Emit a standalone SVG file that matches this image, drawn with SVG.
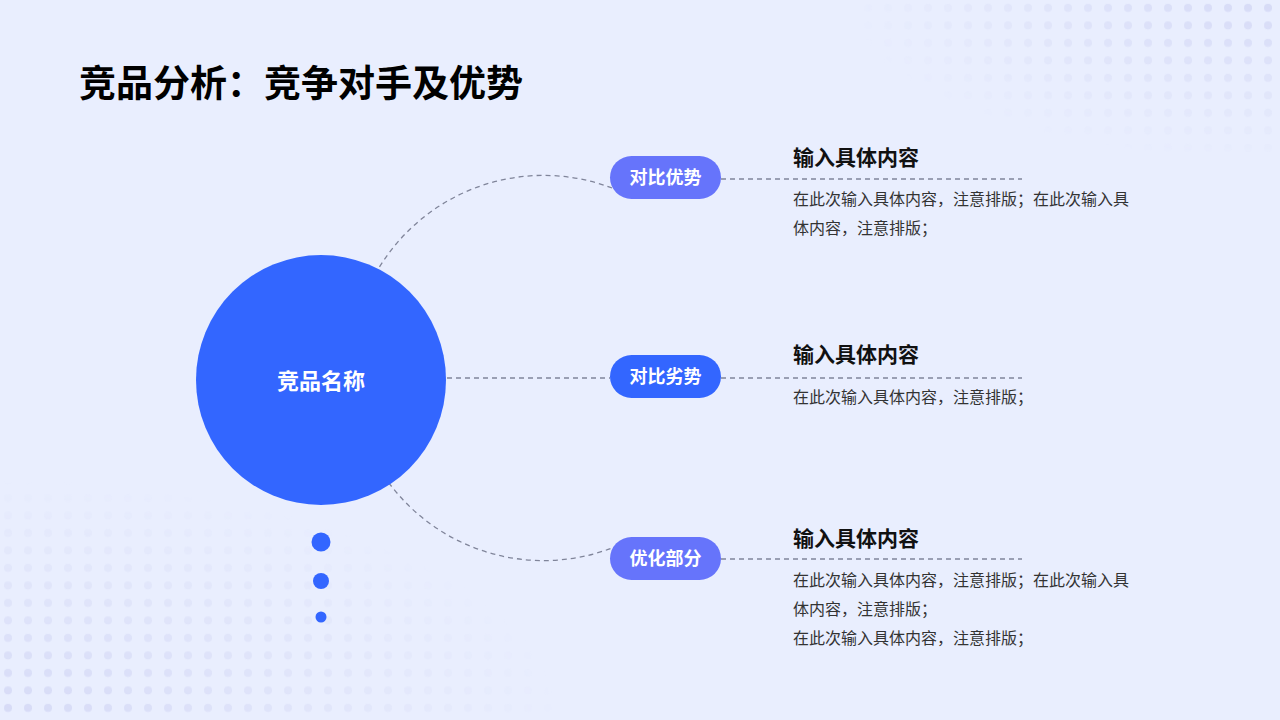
<svg xmlns="http://www.w3.org/2000/svg" width="1280" height="720" viewBox="0 0 1280 720">
<style>
.t{font-family:"Noto Sans CJK SC","Noto Sans",sans-serif}
.h{font-size:21px;font-weight:bold;fill:#111}
.b{font-size:16px;fill:#333}
.pl{font-size:18px;font-weight:bold;fill:#fff}
.d{fill:none;stroke:#80859a;stroke-width:1.3;stroke-dasharray:5 4}
</style>
<defs>
<pattern id="dp" width="20" height="17.5" patternUnits="userSpaceOnUse"><circle cx="8" cy="8" r="4" fill="#d6daf6"/></pattern>
<radialGradient id="g1" cx="0" cy="1" r="1"><stop offset="0" stop-color="#fff"/><stop offset="1" stop-color="#000"/></radialGradient>
<radialGradient id="g2" cx="1" cy="0" r="1"><stop offset="0" stop-color="#fff"/><stop offset="1" stop-color="#000"/></radialGradient>
<mask id="m1"><rect x="0" y="480" width="560" height="240" fill="url(#g1)"/></mask>
<mask id="m2"><rect x="850" y="0" width="430" height="160" fill="url(#g2)"/></mask>
</defs>
<rect width="1280" height="720" fill="#e9eefe"/>
<rect x="0" y="480" width="560" height="240" fill="url(#dp)" mask="url(#m1)"/>
<rect x="850" y="0" width="430" height="160" fill="url(#dp)" mask="url(#m2)"/>
<text class="t" x="79" y="97" font-size="37" font-weight="bold" fill="#000">竞品分析：竞争对手及优势</text>
<g id="connectors">
<path class="d" d="M612,188 A192.6,192.6 0 1 0 612,548"/>
<line class="d" x1="447" y1="378" x2="610" y2="378"/>
<line class="d" x1="721" y1="179" x2="1022" y2="179"/>
<line class="d" x1="721" y1="378" x2="1022" y2="378"/>
<line class="d" x1="721" y1="559" x2="1022" y2="559"/>
</g>
<g id="main"><circle cx="321" cy="380" r="125" fill="#3366ff"/>
<text class="t" x="321" y="389" font-size="22" font-weight="bold" fill="#fff" text-anchor="middle">竞品名称</text></g>
<g id="dots"><circle cx="321" cy="542" r="9.5" fill="#3366ff"/><circle cx="321" cy="581" r="8" fill="#3366ff"/><circle cx="321" cy="617" r="5.5" fill="#3366ff"/></g>
<g id="n1"><rect x="610" y="156" width="111" height="43" rx="21.5" fill="#6674fb"/><text class="t pl" x="665.5" y="184" text-anchor="middle">对比优势</text>
<text class="t h" x="793" y="165">输入具体内容</text>
<text class="t b" x="793" y="205">在此次输入具体内容，注意排版；在此次输入具</text>
<text class="t b" x="793" y="234">体内容，注意排版；</text></g>
<g id="n2"><rect x="610" y="355" width="111" height="43" rx="21.5" fill="#3366ff"/><text class="t pl" x="665.5" y="383" text-anchor="middle">对比劣势</text>
<text class="t h" x="793" y="362">输入具体内容</text>
<text class="t b" x="793" y="403">在此次输入具体内容，注意排版；</text></g>
<g id="n3"><rect x="610" y="537" width="111" height="43" rx="21.5" fill="#6674fb"/><text class="t pl" x="665.5" y="565" text-anchor="middle">优化部分</text>
<text class="t h" x="793" y="546">输入具体内容</text>
<text class="t b" x="793" y="586">在此次输入具体内容，注意排版；在此次输入具</text>
<text class="t b" x="793" y="615">体内容，注意排版；</text>
<text class="t b" x="793" y="644">在此次输入具体内容，注意排版；</text></g>
</svg>
